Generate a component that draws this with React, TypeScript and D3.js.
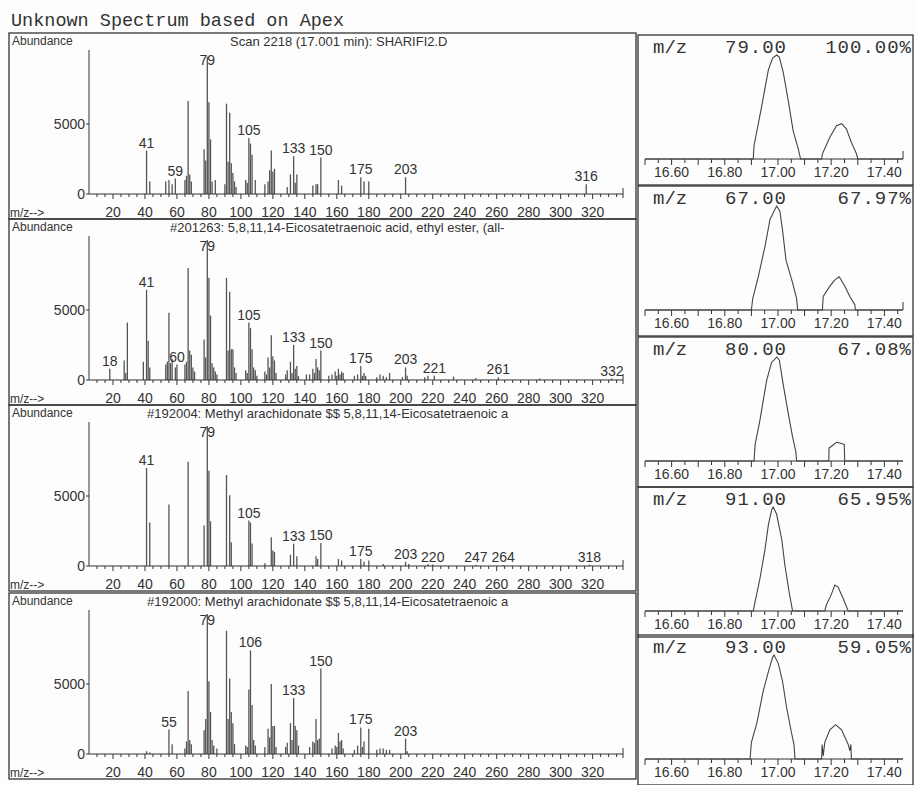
import { useMemo } from "react";
import * as d3 from "d3";

// spectra: [m/z, abundance]
const scanPeaks: [number, number][] = [
  [41, 3100], [43, 900], [53, 900], [55, 1000], [57, 700], [59, 1100],
  [65, 1000], [66, 1300], [67, 6650], [68, 1400], [69, 900],
  [77, 3200], [78, 2400], [79, 9800], [80, 6550], [81, 3900], [82, 900], [84, 1000],
  [90, 700], [91, 6450], [92, 2300], [93, 5800], [94, 2200], [95, 1500], [96, 900], [97, 500],
  [103, 1000], [104, 800], [105, 4000], [106, 3600], [107, 2800], [109, 1000],
  [115, 700], [117, 900], [118, 1700], [119, 3100], [120, 1600], [121, 1800],
  [129, 500], [131, 1400], [133, 2700], [134, 800], [135, 1400],
  [145, 600], [147, 700], [148, 700], [150, 2600], [161, 1000], [163, 600],
  [175, 1200], [177, 900], [180, 900], [203, 1200], [316, 700],
];
const scanLabels = [41, 59, 79, 105, 133, 150, 175, 203, 316];

const ethylPeaks: [number, number][] = [
  [18, 800], [27, 1400], [28, 500], [29, 4100], [39, 1300], [41, 6450], [42, 2800], [43, 900],
  [53, 1100], [54, 1300], [55, 4800], [56, 1200], [57, 1500], [59, 900], [60, 1100],
  [65, 1100], [66, 1300], [67, 8000], [68, 2100], [69, 1800], [70, 900], [71, 600],
  [77, 2900], [78, 1600], [79, 9999], [80, 7300], [81, 4600], [82, 1200], [83, 900], [84, 600], [85, 400],
  [91, 7300], [92, 2100], [93, 6300], [94, 2200], [95, 2200], [96, 900], [97, 500],
  [103, 700], [104, 500], [105, 4100], [106, 3700], [107, 2200], [108, 900], [109, 700], [110, 300],
  [115, 600], [116, 400], [117, 1600], [118, 900], [119, 3200], [120, 1700], [121, 1400], [122, 500],
  [128, 400], [129, 700], [131, 1300], [132, 500], [133, 2500], [134, 800], [135, 1000], [136, 300],
  [141, 400], [143, 400], [145, 800], [146, 500], [147, 1500], [148, 900], [149, 700], [150, 2100],
  [155, 300], [157, 400], [159, 600], [160, 300], [161, 800], [162, 400], [163, 600], [164, 500],
  [171, 300], [173, 400], [175, 1000], [176, 300], [177, 500], [178, 300],
  [185, 200], [187, 400], [189, 300], [191, 200], [193, 500], [201, 200], [203, 900], [204, 300],
  [215, 200], [217, 300], [221, 300], [233, 250], [247, 150], [261, 200], [287, 100], [332, 100],
];
const ethylLabels = [18, 41, 60, 79, 105, 133, 150, 175, 203, 221, 261, 332];

const methyl1Peaks: [number, number][] = [
  [41, 7000], [43, 3100], [55, 4400], [67, 7450], [77, 2900], [79, 9999], [80, 6800], [81, 3200],
  [91, 6500], [93, 5050], [94, 1700], [105, 3250], [106, 3100], [107, 1600], [115, 200],
  [119, 2050], [120, 1100], [121, 1000], [131, 800], [133, 1600], [135, 700],
  [147, 700], [148, 500], [150, 1650], [161, 500], [163, 400], [175, 500], [177, 300], [180, 400],
  [189, 150], [203, 300], [205, 150], [217, 150], [220, 100], [247, 80], [264, 80], [318, 100],
];
const methyl1Labels = [41, 79, 105, 133, 150, 175, 203, 220, 247, 264, 318];

const methyl2Peaks: [number, number][] = [
  [41, 200], [43, 100], [55, 1750], [57, 700], [65, 400], [66, 900], [67, 4500], [68, 1000], [69, 700],
  [77, 1700], [78, 2500], [79, 9999], [80, 5200], [81, 3000], [82, 1000], [83, 600], [85, 400],
  [91, 8800], [92, 2500], [93, 5400], [94, 3000], [95, 2200], [96, 700],
  [103, 600], [104, 500], [105, 4600], [106, 7400], [107, 3500], [108, 1000], [109, 600],
  [115, 500], [117, 1800], [118, 1200], [119, 5000], [120, 2000], [121, 2000], [122, 500],
  [128, 500], [129, 800], [131, 2200], [132, 1000], [133, 4000], [134, 2000], [135, 1700], [136, 600],
  [143, 500], [145, 900], [146, 800], [147, 2500], [148, 1000], [149, 1100], [150, 6100],
  [157, 400], [159, 600], [160, 500], [161, 1500], [162, 900], [163, 1000], [164, 400],
  [171, 300], [173, 600], [175, 1900], [176, 500], [177, 900], [180, 1800],
  [185, 300], [187, 400], [189, 400], [191, 300], [193, 300], [203, 1100], [204, 200],
];
const methyl2Labels = [55, 79, 106, 133, 150, 175, 203];

const spectrumTitles = [
  "Scan 2218 (17.001 min): SHARIFI2.D",
  "#201263: 5,8,11,14-Eicosatetraenoic acid, ethyl ester, (all-",
  "#192004: Methyl arachidonate $$ 5,8,11,14-Eicosatetraenoic a",
  "#192000: Methyl arachidonate $$ 5,8,11,14-Eicosatetraenoic a",
];
const spectrumTitleX = [230, 170, 147, 147];

// ion chromatograms: [time (min), relative intensity]
const ion79: [number, number][] = [
  [16.5, 0], [16.907, 0], [16.91, 0.13], [16.939, 0.51], [16.964, 0.86], [16.98, 0.97], [16.995, 1.0],
  [17.005, 0.98], [17.02, 0.83], [17.04, 0.54], [17.057, 0.27], [17.076, 0.1], [17.085, 0],
  [17.164, 0], [17.167, 0.05], [17.195, 0.21], [17.22, 0.32], [17.239, 0.34], [17.257, 0.29],
  [17.276, 0.16], [17.295, 0.05], [17.3, 0], [17.47, 0],
];
const ion67: [number, number][] = [
  [16.5, 0], [16.9, 0], [16.905, 0.11], [16.926, 0.32], [16.951, 0.61], [16.97, 0.87], [16.985, 0.95],
  [16.995, 1.0], [17.007, 0.95], [17.017, 0.77], [17.03, 0.48], [17.055, 0.26], [17.07, 0.11], [17.074, 0],
  [17.167, 0], [17.17, 0.13], [17.195, 0.23], [17.214, 0.29], [17.23, 0.32], [17.251, 0.23],
  [17.27, 0.13], [17.289, 0.05], [17.291, 0], [17.47, 0],
];
const ion80: [number, number][] = [
  [16.5, 0], [16.91, 0], [16.914, 0.16], [16.932, 0.39], [16.957, 0.77], [16.976, 0.95], [16.985, 0.97],
  [16.995, 1.0], [17.005, 0.97], [17.02, 0.73], [17.039, 0.45], [17.055, 0.23], [17.067, 0.09], [17.07, 0],
  [17.191, 0], [17.192, 0.125], [17.2, 0.14], [17.22, 0.18], [17.236, 0.17], [17.249, 0.16],
  [17.251, 0], [17.47, 0],
];
const ion91: [number, number][] = [
  [16.5, 0], [16.907, 0], [16.914, 0.09], [16.932, 0.31], [16.951, 0.59], [16.964, 0.83], [16.976, 0.97],
  [16.982, 1.0], [16.995, 0.93], [17.014, 0.69], [17.026, 0.44], [17.042, 0.18], [17.055, 0],
  [17.176, 0], [17.182, 0.06], [17.199, 0.15], [17.214, 0.25], [17.226, 0.23], [17.245, 0.12],
  [17.264, 0], [17.47, 0],
];
const ion93: [number, number][] = [
  [16.5, 0], [16.895, 0], [16.9, 0.16], [16.92, 0.34], [16.945, 0.66], [16.964, 0.84], [16.98, 0.98],
  [16.985, 1.0], [17.001, 0.92], [17.017, 0.75], [17.032, 0.5], [17.051, 0.25], [17.06, 0.14], [17.064, 0],
  [17.164, 0], [17.166, 0.14], [17.17, 0.03], [17.176, 0.16], [17.195, 0.28], [17.217, 0.33],
  [17.239, 0.28], [17.264, 0.14], [17.27, 0.08], [17.274, 0.14], [17.276, 0], [17.47, 0],
];
const ionMasses = ["79.00", "67.00", "80.00", "91.00", "93.00"];
const ionPercents = ["100.00%", "67.97%", "67.08%", "65.95%", "59.05%"];

const SANS = "'Liberation Sans', Arial, sans-serif";
const MONO = "'Liberation Mono', 'Courier New', monospace";
const INK = "#333";

const panelTops = [33, 219, 405, 593];
const boxTops = [35, 186, 337, 487, 635];

const Spectrum = ({ top, peaks, labels, title, titleX }: {
  top: number; peaks: [number, number][]; labels: number[]; title: string; titleX: number;
}) => {
  const x = d3.scaleLinear().domain([5, 339]).range([89, 623]);
  const y = d3.scaleLinear().domain([0, 10000]).range([top + 161, top + 21]);
  const minor = d3.range(10, 340, 5);
  const major = d3.range(20, 321, 20);
  const lookup = new Map(peaks);
  return (
    <g>
      <rect x={9} y={top} width={627} height={186} fill="none" stroke={INK} strokeWidth={1.3} />
      <text x={12} y={top + 12} fontFamily={SANS} fontSize={12} fill={INK}>Abundance</text>
      <text x={titleX} y={top + 13} fontFamily={SANS} fontSize={13} fill={INK}>{title}</text>
      {peaks.map(([m, v]) => (
        <line key={m} x1={x(m)} x2={x(m)} y1={y(0)} y2={y(v)} stroke="#555" strokeWidth={1.3} />
      ))}
      {labels.map((m) => (
        <text key={m} x={x(m)} y={Math.max(top + 32, y(lookup.get(m) ?? 0) - 3)}
          textAnchor="middle" fontFamily={SANS} fontSize={14} fill={INK}>{m}</text>
      ))}
      <line x1={89} x2={89} y1={top + 17} y2={y(0)} stroke="#555" strokeWidth={1.2} />
      <line x1={89} x2={623} y1={y(0)} y2={y(0)} stroke={INK} strokeWidth={1.2} />
      {[0, 5000].map((v) => (
        <g key={v}>
          <line x1={86} x2={89} y1={y(v)} y2={y(v)} stroke={INK} />
          <text x={85} y={y(v) + 5} textAnchor="end" fontFamily={SANS} fontSize={14} fill={INK}>{v}</text>
        </g>
      ))}
      {minor.map((m) => (
        <line key={m} x1={x(m)} x2={x(m)} y1={y(0)} y2={y(0) + (m % 20 === 0 ? 5 : 3)} stroke={INK} />
      ))}
      <line x1={623} x2={623} y1={y(0) - 6} y2={y(0) + 4} stroke={INK} />
      <text x={10} y={top + 184} fontFamily={SANS} fontSize={12} fill={INK}>m/z--&gt;</text>
      {major.map((m) => (
        <text key={m} x={x(m)} y={top + 184} textAnchor="middle" fontFamily={SANS} fontSize={14} fill={INK}>{m}</text>
      ))}
    </g>
  );
};

const IonBox = ({ top, data, mass, pct, endMark }: {
  top: number; data: [number, number][]; mass: string; pct: string; endMark: boolean;
}) => {
  const t = d3.scaleLinear().domain([16.5, 17.47]).range([645, 903]);
  const y = d3.scaleLinear().domain([0, 1]).range([top + 124, top + 20]);
  const path = d3.line<[number, number]>().x((d) => t(d[0])).y((d) => y(d[1]))(data) ?? "";
  const ticks = d3.range(0, 20).map((i) => 16.5 + i * 0.05);
  const labelTicks = [16.6, 16.8, 17.0, 17.2, 17.4];
  return (
    <g>
      <rect x={638} y={top} width={275} height={150} fill="none" stroke={INK} strokeWidth={1.3} />
      <text x={653} y={top + 18} fontFamily={MONO} fontSize={19} fill={INK}>m/z</text>
      <text x={756} y={top + 18} textAnchor="middle" fontFamily={MONO} fontSize={19} fill={INK} letterSpacing={1}>{mass}</text>
      <text x={912} y={top + 18} textAnchor="end" fontFamily={MONO} fontSize={19} fill={INK} letterSpacing={1}>{pct}</text>
      <line x1={645} x2={903} y1={y(0)} y2={y(0)} stroke={INK} strokeWidth={1.1} />
      {ticks.map((v, i) => (
        <line key={i} x1={t(v)} x2={t(v)} y1={y(0)} y2={y(0) + (i % 2 === 0 ? 6 : 4)} stroke={INK} />
      ))}
      {endMark && <line x1={903} x2={903} y1={y(0)} y2={y(0) - 8} stroke={INK} />}
      {labelTicks.map((v) => (
        <text key={v} x={t(v)} y={top + 142} textAnchor="middle" fontFamily={SANS} fontSize={14} fill={INK}>{v.toFixed(2)}</text>
      ))}
      <path d={path} fill="none" stroke="#444" strokeWidth={1.1} />
    </g>
  );
};

export default function App() {
  const spectra = useMemo(() => [
    { peaks: scanPeaks, labels: scanLabels },
    { peaks: ethylPeaks, labels: ethylLabels },
    { peaks: methyl1Peaks, labels: methyl1Labels },
    { peaks: methyl2Peaks, labels: methyl2Labels },
  ], []);
  const ions = [ion79, ion67, ion80, ion91, ion93];
  return (
    <svg width={915} height={785} style={{ position: "absolute", left: 0, top: 0, background: "#fdfdfd" }}>
      <text x={11} y={26} fontFamily={MONO} fontSize={18.5} fill={INK}>Unknown Spectrum based on Apex</text>
      {spectra.map((s, i) => (
        <Spectrum key={i} top={panelTops[i]} peaks={s.peaks} labels={s.labels}
          title={spectrumTitles[i]} titleX={spectrumTitleX[i]} />
      ))}
      {ions.map((d, i) => (
        <IonBox key={i} top={boxTops[i]} data={d} mass={ionMasses[i]} pct={ionPercents[i]} endMark={i < 2} />
      ))}
    </svg>
  );
}
